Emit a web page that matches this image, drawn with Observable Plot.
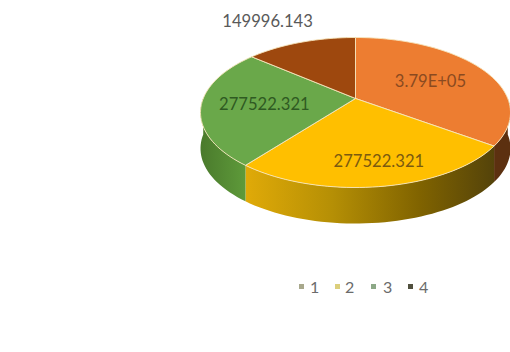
<!DOCTYPE html>
<html>
<head>
<meta charset="utf-8">
<script src="https://cdn.jsdelivr.net/npm/d3@7"></script>
<script src="https://cdn.jsdelivr.net/npm/@observablehq/plot@0.6"></script>
<style>
  html, body { margin: 0; background: #fff; }
  #chart { width: 510px; height: 352px; position: relative; overflow: hidden; }
  #legend { position: absolute; left: 0; top: 276px; width: 510px; height: 22px;
            font: 16px Lato, sans-serif; color: #6b6b6b; }
  #legend span { position: absolute; top: 0; line-height: 22px; }
  #legend i { position: absolute; top: 8px; width: 5px; height: 5px; }
</style>
</head>
<body>
<div id="chart"></div>
<script>
// Pie slices
const categories = ["1", "2", "3", "4"];
const values = [379000, 277522.321, 277522.321, 149996.143];
const valueLabels = ["3.79E+05", "277522.321", "277522.321", "149996.143"];
const topColors = ["#ed7d31", "#ffbf00", "#6aa84a", "#9e480e"];
const labelColors = ["#8a4a20", "#7a5a10", "#2f5a22", "#595959"];
const labelRadii = [0.57, 0.76, 0.595, 1.51];
const labelAngles = [64.6, 170, 262, 331.5];
const legendColors = ["#a8a88c", "#dccf7c", "#8ca886", "#50503e"];
const legendSwatchX = [299, 335, 371, 408];
const legendTextX = [310, 345, 383, 419];

// Oblique view of the disc: the circle stays an ellipse, its centre slides up
const tilt = 0.187;
const squeeze = Math.sqrt(1 - tilt * tilt);
const depth = 0.48;
function project(angle, r = 1, drop = 0) {
  const a = angle * Math.PI / 180;
  const u = r * Math.sin(a), v = r * Math.cos(a);
  const w = 1 + tilt * v;
  return { x: u * squeeze / w, y: (v + tilt) / w - drop };
}
function arc(a0, a1, drop = 0) {
  const n = Math.max(2, Math.ceil((a1 - a0) / 2));
  return d3.range(n + 1).map(i => project(a0 + (a1 - a0) * i / n, 1, drop));
}

const total = d3.sum(values);
let running = 0;
const slices = values.map((v, i) => {
  const start = running / total * 360;
  running += v;
  return { i, start, end: running / total * 360 };
});

// Outer wall of a slice: the part of its rim on the near half of the disc
function wall(s) {
  const a0 = Math.max(s.start, 90), a1 = Math.min(s.end, 270);
  if (a1 <= a0) return null;
  return [...arc(a0, a1), ...arc(a0, a1, depth).reverse()];
}
const wallFills = ["#5c3010", "url(#wallYellow)", "url(#wallGreen)", "none"];

function gradients() {
  const defs = d3.create("svg:defs");
  const add = (id, stops) => {
    const g = defs.append("linearGradient").attr("id", id);
    stops.forEach(([o, c]) => g.append("stop").attr("offset", o).attr("stop-color", c));
  };
  add("wallYellow", [[0, "#e0aa08"], [0.35, "#b58f05"], [0.7, "#806300"], [1, "#54430a"]]);
  add("wallGreen", [[0, "#4a7a2c"], [1, "#5e9a3a"]]);
  return defs.node();
}

const walls = slices.filter(wall).map(s =>
  Plot.line(wall(s), { x: "x", y: "y", fill: wallFills[s.i], stroke: "none" }));
const faces = slices.map(s =>
  Plot.line([project(0, 0), ...arc(s.start, s.end), project(0, 0)],
    { x: "x", y: "y", fill: topColors[s.i], stroke: "#f6e6bd", strokeWidth: 1, strokeOpacity: 0.9 }));
const labels = slices.map(s => {
  const p = project(labelAngles[s.i], labelRadii[s.i]);
  return Plot.text([{ ...p, t: valueLabels[s.i] }], {
    x: "x", y: "y", text: "t", fill: labelColors[s.i],
    fontSize: 16.6, fontFamily: "Lato, sans-serif"
  });
});

const plot = Plot.plot({
  width: 510, height: 265,
  margin: 0,
  x: { domain: [-1, 1], range: [200, 510], axis: null },
  y: { domain: [-1, 1], range: [187, 37], axis: null },
  marks: [gradients, ...walls, ...faces, ...labels]
});
plot.style.position = "absolute";
plot.style.background = "transparent";

const chart = document.getElementById("chart");
chart.append(plot);

// Legend row beneath the pie
const legend = document.createElement("div");
legend.id = "legend";
categories.forEach((c, i) => {
  const sw = document.createElement("i");
  sw.style.left = legendSwatchX[i] + "px";
  sw.style.background = legendColors[i];
  const t = document.createElement("span");
  t.style.left = legendTextX[i] + "px";
  t.textContent = c;
  legend.append(sw, t);
});
chart.append(legend);
</script>
</body>
</html>
